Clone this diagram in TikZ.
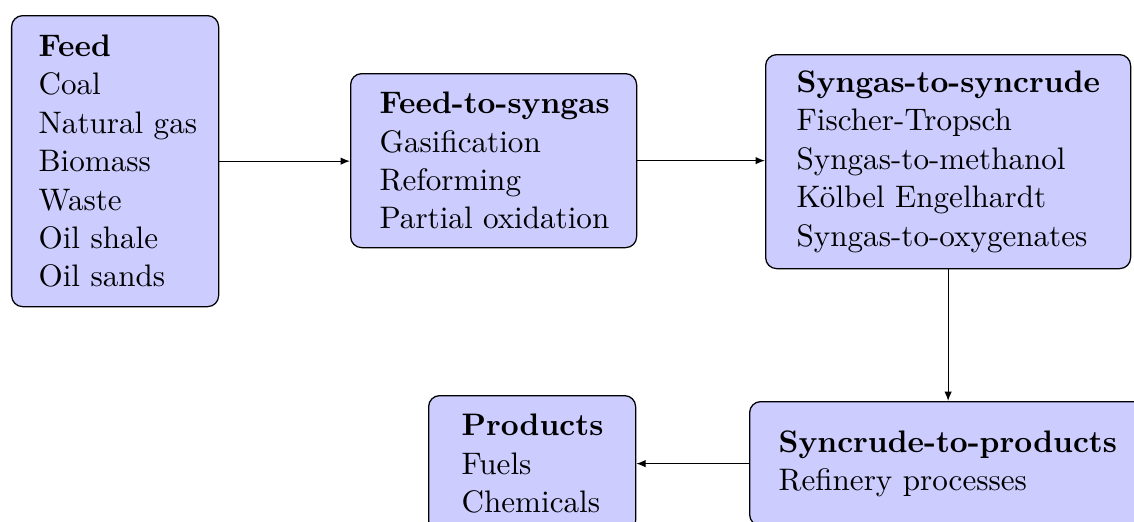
\documentclass[tikz,border=0pt]{standalone}
\usepackage{fontspec}
\usetikzlibrary{arrows.meta}
\begin{document}
\begin{tikzpicture}[x=0.3175pt,y=-0.3175pt,
  stage/.style={draw, rounded corners=3.5pt, fill=blue!20, align=left, anchor=north west, inner ysep=0pt,
    font=\fontsize{9.88}{12.2}\selectfont},
  flow/.style={-{Latex[length=3pt,width=2.4pt]}}]
\useasboundingbox (0,0) rectangle (1134,522);
\clip (0,0) rectangle (1134,522);
\node[stage, minimum width={207*0.3175pt}, minimum height={291*0.3175pt}, inner xsep={27*0.3175pt}, text width={153*0.3175pt}] (feed) at (11,15)
  {\mbox{\textbf{Feed}}\\Coal\\\mbox{Natural gas}\\Biomass\\Waste\\\mbox{Oil shale}\\\mbox{Oil sands}};
\node[stage, minimum width={286*0.3175pt}, minimum height={174*0.3175pt}, inner xsep={29*0.3175pt}, text width={228*0.3175pt}] (f2s) at (350,73)
  {\mbox{\textbf{Feed-to-syngas}}\\\mbox{Gasification}\\\mbox{Reforming}\\\mbox{Partial oxidation}};
\node[stage, minimum width={365*0.3175pt}, minimum height={214*0.3175pt}, inner xsep={31*0.3175pt}, text width={303*0.3175pt}] (s2s) at (765,54)
  {\mbox{\textbf{Syngas-to-syncrude}}\\\mbox{Fischer-Tropsch}\\\mbox{Syngas-to-methanol}\\\mbox{Kölbel Engelhardt}\\\mbox{Syngas-to-oxygenates}};
\node[stage, minimum width={396*0.3175pt}, minimum height={124*0.3175pt}, inner xsep={29*0.3175pt}, text width={338*0.3175pt}] (s2p) at (749,401)
  {\mbox{\textbf{Syncrude-to-products}}\\\mbox{Refinery processes}};
\node[stage, minimum width={207*0.3175pt}, minimum height={136*0.3175pt}, inner xsep={33*0.3175pt}, text width={141*0.3175pt}] (prod) at (428,395)
  {\mbox{\textbf{Products}}\\Fuels\\\mbox{Chemicals}};
\draw[flow] (feed.east) -- (feed.east -| f2s.west);
\draw[flow] (f2s.east) -- (f2s.east -| s2s.west);
\draw[flow] (s2s.south) -- (s2s.south |- s2p.north);
\draw[flow] (s2p.west) -- (s2p.west -| prod.east);
\end{tikzpicture}
\end{document}
